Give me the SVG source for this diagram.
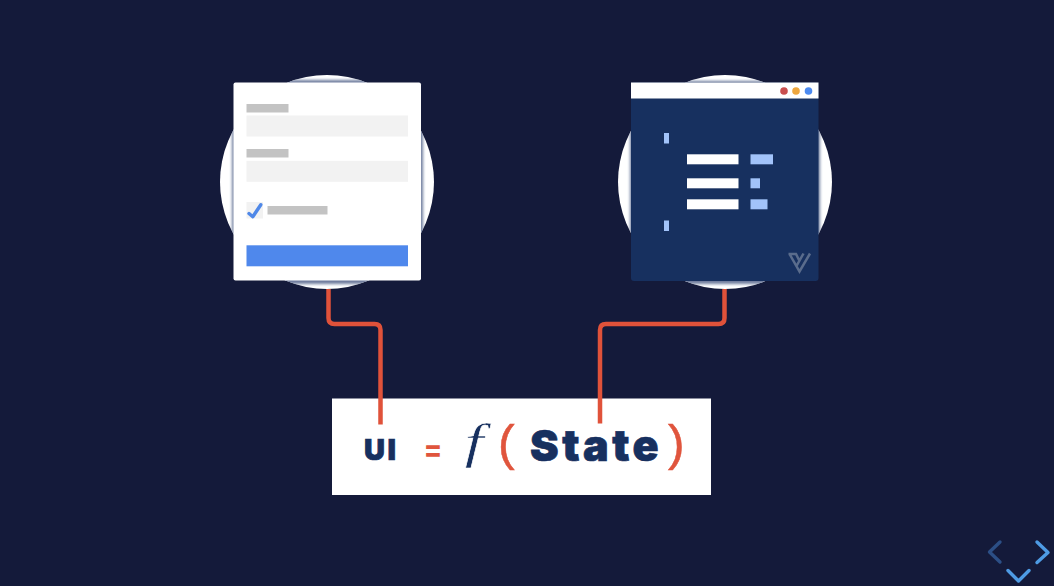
<svg xmlns="http://www.w3.org/2000/svg" width="1054" height="586" viewBox="0 0 1054 586">
<defs>
<filter id="soft" x="-10%" y="-10%" width="120%" height="120%"><feGaussianBlur stdDeviation="1.800"/></filter>
<clipPath id="c1"><circle cx="327" cy="182" r="107"/></clipPath>
<clipPath id="c2"><circle cx="725" cy="182" r="107"/></clipPath>
</defs>
<style>
.circle{fill:#ffffff}
.shadow{fill:#6d7a9c;filter:url(#soft)}
.field{fill:#f2f2f2}
.lbl{fill:#c3c3c3}
.wire{fill:none;stroke:#e0523a;stroke-width:4.500}
.navy{fill:#17305f}
.org{fill:#e0553d}
.wht{fill:#ffffff}
.lt{fill:#a2c3fa}
.nav{fill:none;stroke-width:3.400;stroke-linecap:round;stroke-linejoin:round}
.t{font-family:"Inter","Lato","Liberation Sans",sans-serif;font-weight:900;stroke:#17305f;stroke-width:0.700}
.p{font-family:"Liberation Sans",sans-serif;font-size:50px;stroke:#e0553d;stroke-width:0.500}
</style>
<rect width="1054" height="586" fill="#141a3a"/>

<g id="form-node">
<circle class="circle" cx="327" cy="182" r="107"/>
<g clip-path="url(#c1)"><rect class="shadow" x="232" y="80" width="191" height="204" rx="2"/></g>
<rect x="233.500" y="82.500" width="187.500" height="198" rx="2" fill="#fff"/>
<rect class="lbl" x="246.500" y="104" width="42" height="8.500"/>
<rect class="field" x="246.500" y="115.500" width="161.500" height="21"/>
<rect class="lbl" x="246.500" y="149" width="42" height="8.500"/>
<rect class="field" x="246.500" y="160.800" width="161.500" height="21"/>
<rect class="field" x="246.500" y="202" width="16.500" height="16.500"/>
<path d="M249 213.500l3.800 3.200 8-12" fill="none" stroke="#4f88e8" stroke-width="3.400" stroke-linecap="round" stroke-linejoin="round"/>
<rect class="lbl" x="267.500" y="206" width="60" height="8.500"/>
<rect x="246.500" y="245.300" width="161.500" height="21" fill="#4f88ec"/>
</g>

<g id="list-node">
<circle class="circle" cx="725" cy="182" r="107"/>
<g clip-path="url(#c2)"><rect class="shadow" x="630" y="81" width="190" height="203" rx="2"/></g>
<rect x="631" y="82.500" width="187.500" height="198.500" rx="3" fill="#17305f"/>
<rect x="631" y="82.500" width="187.500" height="16" fill="#fff"/>
<circle cx="784" cy="91" r="3.800" fill="#c94f4f"/>
<circle cx="796" cy="91" r="3.800" fill="#eda63e"/>
<circle cx="808.500" cy="91" r="3.800" fill="#4c8af0"/>
<rect class="lt" x="664" y="133" width="5" height="10.500"/>
<rect class="lt" x="664" y="220.500" width="5" height="10.500"/>
<rect class="wht" x="687" y="154.300" width="51.500" height="10"/>
<rect class="wht" x="687" y="178.300" width="51.500" height="10"/>
<rect class="wht" x="687" y="199.300" width="51.500" height="10"/>
<rect class="lt" x="750.500" y="154.300" width="22.500" height="10"/>
<rect class="lt" x="750.500" y="178.300" width="9.500" height="10"/>
<rect class="lt" x="750.500" y="199.300" width="17" height="10"/>
<path d="M788.500 254H796L799.500 261M810 253.500L799.500 271.500L789.500 254M803.500 253.500L796.500 266" fill="none" stroke="#5a6c8c" stroke-width="2.500"/>
</g>

<g id="formula-node">
<rect x="332" y="398.500" width="379" height="96.500" fill="#fff"/>
<text class="t navy" x="364" y="459.500" font-size="29" letter-spacing="2.500">UI</text>
<text class="org" x="423.500" y="460" font-size="31" font-weight="700" font-family="Inter,sans-serif" textLength="19" lengthAdjust="spacingAndGlyphs">=</text>
<text class="navy" transform="translate(474 458) scale(1.400 1)" font-size="48" font-style="italic" text-anchor="middle" stroke="#fff" stroke-width="0.500" font-family="'Liberation Serif',serif">f</text>
<text class="p org" x="498" y="459.500">(</text>
<text class="t navy" x="530" y="461" font-size="43" letter-spacing="3.500">State</text>
<text class="p org" x="668" y="459.500">)</text>
</g>

<g id="connectors">
<path class="wire" d="M328.500 289V318q0 6 6 6H374.500q6 0 6 6V424.500"/>
<path class="wire" d="M724.500 289V318q0 6-6 6H606q-6 0-6 6V423.500"/>
</g>

<g id="nav-arrows">
<path class="nav" stroke="#2c4f86" d="M1000 542l-10.500 10 10.500 10"/>
<path class="nav" stroke="#4e9be4" d="M1037 542l11 10.500-11 10"/>
<path class="nav" stroke="#4e9be4" d="M1008 570.500l10.500 10.500 10.500-10.500"/>
</g>
</svg>
